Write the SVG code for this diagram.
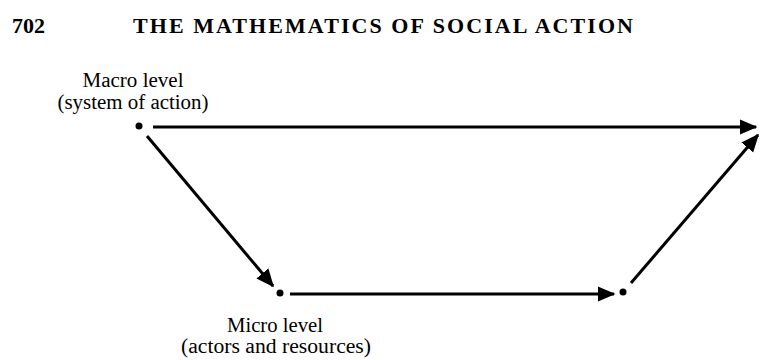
<svg xmlns="http://www.w3.org/2000/svg" width="760" height="360" viewBox="0 0 760 360">
<defs>
<marker id="ah" markerWidth="6" markerHeight="6" refX="5.5" refY="3" orient="auto" markerUnits="strokeWidth">
<path d="M0,0.4 L6,3 L0,5.6 Z" fill="#000"/>
</marker>
<style>
.t{font-family:"Liberation Serif","Times New Roman",serif;fill:#000}
.lbl{font-size:20px;text-anchor:middle}
.hd{font-size:22px;font-weight:bold}
.c{stroke:#000;stroke-width:3;fill:none;marker-end:url(#ah)}
.dot{fill:#000}
</style>
</defs>
<rect width="760" height="360" fill="#fff"/>
<text class="t hd" x="12" y="33" textLength="33" lengthAdjust="spacingAndGlyphs">702</text>
<text class="t hd" x="133" y="33" font-size="21" textLength="500" lengthAdjust="spacing">THE MATHEMATICS OF SOCIAL ACTION</text>
<g id="macro">
<circle class="dot" cx="139" cy="126" r="3.5"/>
<text class="t lbl" x="133" y="87" textLength="101" lengthAdjust="spacingAndGlyphs">Macro level</text>
<text class="t lbl" x="133" y="109" textLength="151" lengthAdjust="spacingAndGlyphs">(system of action)</text>
</g>
<g id="micro">
<circle class="dot" cx="280" cy="293" r="3.5"/>
<text class="t lbl" x="275" y="332" textLength="96" lengthAdjust="spacingAndGlyphs">Micro level</text>
<text class="t lbl" x="276" y="353" textLength="190" lengthAdjust="spacingAndGlyphs">(actors and resources)</text>
</g>
<g id="micro2">
<circle class="dot" cx="623" cy="292" r="3.5"/>
</g>
<g id="connectors">
<line class="c" x1="153" y1="127" x2="756" y2="127"/>
<line class="c" x1="147" y1="136" x2="273" y2="286"/>
<line class="c" x1="290" y1="294" x2="614" y2="294"/>
<line class="c" x1="631" y1="283" x2="758" y2="135"/>
</g>
</svg>
